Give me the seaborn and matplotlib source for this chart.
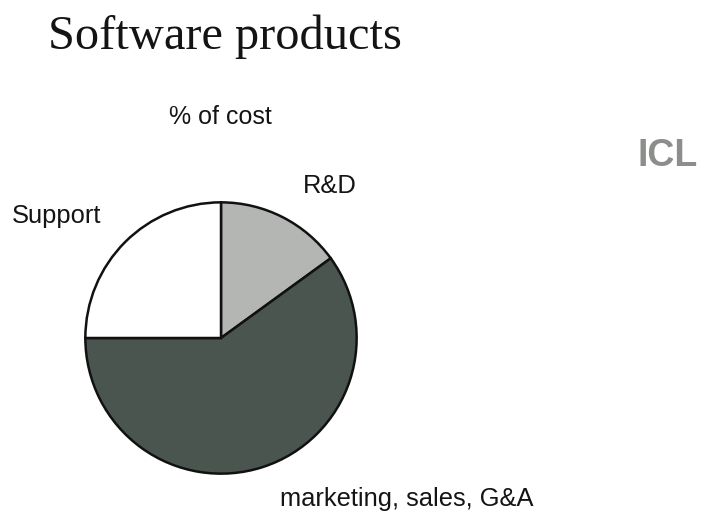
import matplotlib
matplotlib.use("Agg")
import matplotlib.pyplot as plt
import seaborn as sns

# Cost breakdown for software products (% of cost)
categories = ["R&D", "marketing, sales, G&A", "Support"]
shares = [15, 60, 25]
slice_colors = ["#b4b6b4", "#4b5550", "#ffffff"]

sns.set_theme(style="white")
plt.rcParams["font.family"] = ["Liberation Sans", "DejaVu Sans"]

W, H = 705, 514
fig = plt.figure(figsize=(W / 100, H / 100), dpi=100)
fig.patch.set_facecolor("white")

# Pie axes: centre (221, 338) px, radius 137 px
cx, cy, r = 221, 338, 137
ax = fig.add_axes([(cx - r) / W, (H - cy - r) / H, 2 * r / W, 2 * r / H])
wedges, _ = ax.pie(
    shares,
    colors=slice_colors,
    startangle=90,
    counterclock=False,
    radius=1.0,
    wedgeprops=dict(edgecolor="#111111", linewidth=1.8),
)
ax.set_xlim(-1.01, 1.01)
ax.set_ylim(-1.01, 1.01)
ax.set_aspect("equal")
ax.axis("off")

# Title and subtitle
fig.text(48 / W, 1 - 49 / H, "Software products", fontsize=34.8,
         family=["Liberation Serif", "DejaVu Serif"], color="#141414",
         ha="left", va="baseline")
fig.text(220 / W, 1 - 124 / H, "% of cost", fontsize=18, color="#141414",
         ha="center", va="baseline")

# Slice labels (left edge x, baseline y in pixels)
label_pos = {
    "R&D": (303, 193),
    "marketing, sales, G&A": (280, 506),
    "Support": (12, 223),
}
for name in categories:
    x, y = label_pos[name]
    fig.text(x / W, 1 - y / H, name, fontsize=18.4, color="#141414",
             ha="left", va="baseline")

# Company mark
fig.text(668 / W, 1 - 156 / H, "ICL", fontsize=27, fontweight="bold",
         color="#8c8e8c", ha="center", va="center")

fig.savefig("out.png", dpi=100, facecolor="white")
